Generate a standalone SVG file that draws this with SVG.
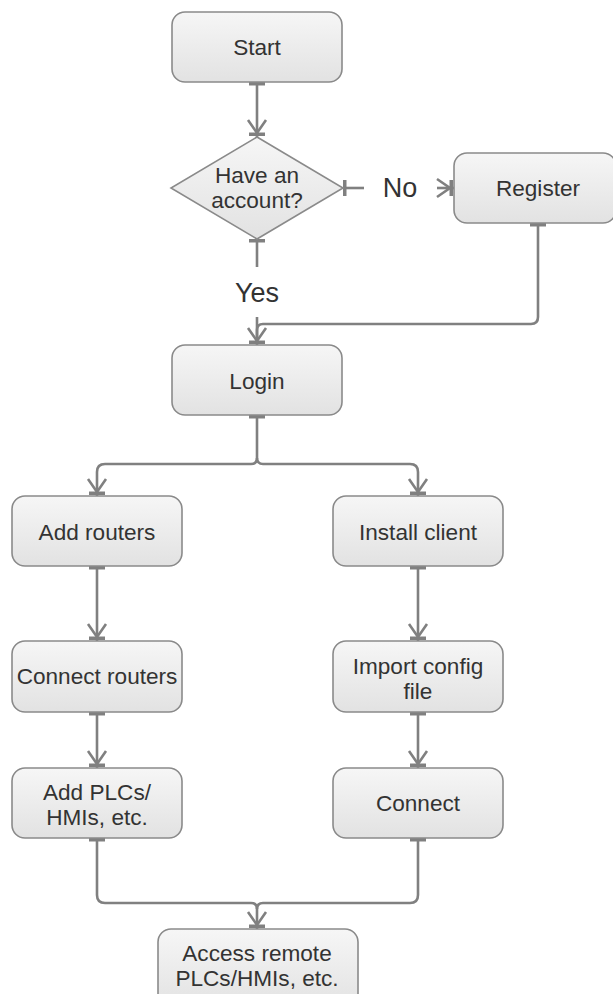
<svg xmlns="http://www.w3.org/2000/svg" width="613" height="994" viewBox="0 0 613 994">
<style>
.box{fill:url(#g);stroke:#8a8a8a;stroke-width:1.6}
.t{font-family:"Liberation Sans",Arial,sans-serif;font-size:22.6px;fill:#333;text-anchor:middle}
.lbl{font-family:"Liberation Sans",Arial,sans-serif;font-size:27px;fill:#333;text-anchor:middle}
.c{fill:none;stroke:#808080;stroke-width:2.6}
</style>
<defs>
<linearGradient id="g" x1="0" y1="0" x2="0" y2="1">
<stop offset="0" stop-color="#f6f6f6"/>
<stop offset="1" stop-color="#e2e2e2"/>
</linearGradient>
<marker id="bar" markerUnits="userSpaceOnUse" markerWidth="20" markerHeight="20" refX="0" refY="0" orient="auto" overflow="visible">
<rect x="0" y="-8" width="3.5" height="16" fill="#808080"/>
</marker>
<marker id="arr" markerUnits="userSpaceOnUse" markerWidth="20" markerHeight="20" refX="0" refY="0" orient="auto" overflow="visible">
<rect x="-4.5" y="-8" width="3.5" height="16" fill="#808080"/>
<path d="M-17,-9 L-4,0 L-17,9" fill="none" stroke="#808080" stroke-width="2.6"/>
</marker>
</defs>
<g id="connectors">
<path class="c" d="M257,82 V137" marker-start="url(#bar)" marker-end="url(#arr)"/>
<path class="c" d="M343,188 H364" marker-start="url(#bar)"/>
<path class="c" d="M437,188 H454" marker-end="url(#arr)"/>
<path class="c" d="M257,239 V267" marker-start="url(#bar)"/>
<path class="c" d="M257,317 V345" marker-end="url(#arr)"/>
<path class="c" d="M538,223 V317 Q538,324 531,324 H263 Q257,324 257,330 V338" marker-start="url(#bar)"/>
<path class="c" d="M257,415 V458 Q257,464 251,464 H105 Q97,464 97,472 V496" marker-start="url(#bar)" marker-end="url(#arr)"/>
<path class="c" d="M257,458 Q257,464 263,464 H410 Q418,464 418,472 V496" marker-end="url(#arr)"/>
<path class="c" d="M97,566 V641" marker-start="url(#bar)" marker-end="url(#arr)"/>
<path class="c" d="M418,566 V641" marker-start="url(#bar)" marker-end="url(#arr)"/>
<path class="c" d="M97,712 V768" marker-start="url(#bar)" marker-end="url(#arr)"/>
<path class="c" d="M418,712 V768" marker-start="url(#bar)" marker-end="url(#arr)"/>
<path class="c" d="M97,838 V895 Q97,903 105,903 H251 Q257,903 257,909 V929" marker-start="url(#bar)" marker-end="url(#arr)"/>
<path class="c" d="M418,838 V895 Q418,903 410,903 H263 Q257,903 257,909" marker-start="url(#bar)"/>
</g>
<g id="start"><rect class="box" x="172" y="12" width="170" height="70" rx="13"/><text class="t" x="257" y="55">Start</text></g>
<g id="decision"><polygon class="box" points="257,137 343,188 257,239 171,188"/><text class="t" x="257" y="183">Have an</text><text class="t" x="257" y="208">account?</text></g>
<g id="label-no"><text class="lbl" x="400" y="197">No</text></g>
<g id="register"><rect class="box" x="454" y="153" width="162" height="70" rx="13"/><text class="t" x="538" y="196">Register</text></g>
<g id="label-yes"><text class="lbl" x="257" y="302">Yes</text></g>
<g id="login"><rect class="box" x="172" y="345" width="170" height="70" rx="13"/><text class="t" x="257" y="389">Login</text></g>
<g id="add-routers"><rect class="box" x="12" y="496" width="170" height="70" rx="13"/><text class="t" x="97" y="540">Add routers</text></g>
<g id="install-client"><rect class="box" x="333" y="496" width="170" height="70" rx="13"/><text class="t" x="418" y="540">Install client</text></g>
<g id="connect-routers"><rect class="box" x="12" y="641" width="170" height="71" rx="13"/><text class="t" x="97" y="684">Connect routers</text></g>
<g id="import-config"><rect class="box" x="333" y="641" width="170" height="71" rx="13"/><text class="t" x="418" y="674">Import config</text><text class="t" x="418" y="699">file</text></g>
<g id="add-plcs"><rect class="box" x="12" y="768" width="170" height="70" rx="13"/><text class="t" x="97" y="800">Add PLCs/</text><text class="t" x="97" y="825">HMIs, etc.</text></g>
<g id="connect"><rect class="box" x="333" y="768" width="170" height="70" rx="13"/><text class="t" x="418" y="811">Connect</text></g>
<g id="access"><rect class="box" x="158" y="929" width="200" height="80" rx="13"/><text class="t" x="257" y="961">Access remote</text><text class="t" x="257" y="986">PLCs/HMIs, etc.</text></g>
</svg>
